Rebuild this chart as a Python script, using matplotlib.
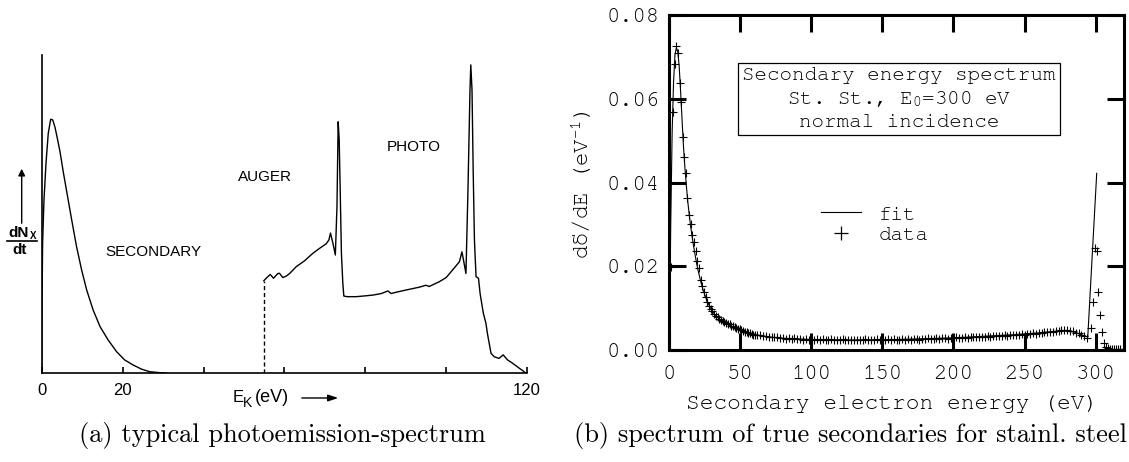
import matplotlib
matplotlib.use("Agg")
import matplotlib.pyplot as plt
from matplotlib.lines import Line2D
from matplotlib.patches import FancyArrowPatch
from matplotlib import font_manager

# ---------------- data: panel (a) ----------------
E_sec = [0, 0.05, 0.2, 0.54, 1.04, 1.6, 2.2, 2.7, 3.26, 3.84, 4.5, 5.3, 6.1, 7.4, 8.6, 9.85, 11.1, 12.7,
         14.4, 16.4, 18.5, 20.5, 22.6, 24.7, 26.7, 29.2, 30.8]
N_sec = [0, 0.21, 0.41, 0.544, 0.66, 0.754, 0.798, 0.796, 0.773, 0.738, 0.696, 0.633, 0.575, 0.481, 0.397,
         0.324, 0.261, 0.198, 0.146, 0.104, 0.067, 0.041, 0.025, 0.012, 0.004, 0.001, 0.0]

E_edge = 54.9
N_edge = 0.29

E_photo = [54.9, 55.5, 56.5, 57.3, 58.4, 58.8, 59.6, 60.5, 61.3, 62.9, 65.0, 67.0, 68.7, 70.3, 71.0, 71.4,
           72.0, 72.6, 73.0, 73.3, 73.55, 73.8, 74.1, 74.45, 74.7, 75.5, 77.7, 79.5, 81.9, 84.0, 85.6,
           86.4, 88.0, 90.1, 93.4, 95.0, 95.8, 98.3, 100.0, 101.6, 103.3, 103.9, 104.3, 104.9, 105.4,
           105.9, 106.1, 106.4, 106.7, 107.0, 107.4, 108.0, 108.4, 109.2, 109.85, 110.2, 111.1, 111.9,
           113.1, 114.1, 115.2, 116.4, 118.1, 119.3, 119.6]
N_photo = [0.29, 0.298, 0.31, 0.298, 0.313, 0.3135, 0.30, 0.305, 0.313, 0.334, 0.353, 0.376, 0.392, 0.406,
           0.418, 0.44, 0.408, 0.371, 0.523, 0.79, 0.733, 0.575, 0.377, 0.282, 0.242, 0.24, 0.24, 0.242,
           0.245, 0.25, 0.258, 0.25, 0.255, 0.261, 0.27, 0.276, 0.272, 0.287, 0.30, 0.324, 0.35, 0.381,
           0.355, 0.313, 0.575, 0.89, 0.969, 0.89, 0.628, 0.418, 0.303, 0.298, 0.25, 0.188, 0.156,
           0.125, 0.062, 0.051, 0.046, 0.057, 0.041, 0.031, 0.015, 0.004, 0.0]

ticks_a = [0, 20, 40, 60, 80, 100, 120]
ticklabels_a = ["0", "20", "", "", "", "", "120"]

# ---------------- data: panel (b) ----------------
E_data = [1.2, 2.4, 3.7, 5.0, 6.3, 7.5, 8.4, 9.5, 10.5, 11.5, 12.7, 14.0, 15.1, 16.2, 17.3, 18.5, 19.6,
          20.8, 22.0, 23.2, 24.4, 25.6, 26.8, 28.0, 29.2, 30.4, 31.6, 32.8, 34.0, 35.2, 36.4, 37.6, 38.8,
          40.0, 41.2, 42.4, 43.6, 44.8, 46.0, 47.2, 48.4, 49.6, 50.8, 52.0, 53.2, 54.4, 55.6, 56.8, 58.0,
          59.2, 60.4,
          62, 64, 66, 68, 70, 72, 74, 76, 78, 80, 82, 84, 86, 88, 90, 92, 94, 96, 98, 100,
          102, 104, 106, 108, 110, 112, 114, 116, 118, 120, 122, 124, 126, 128, 130, 132, 134, 136, 138, 140,
          142, 144, 146, 148, 150, 152, 154, 156, 158, 160, 162, 164, 166, 168, 170, 172, 174, 176, 178, 180,
          182, 184, 186, 188, 190, 192, 194, 196, 198, 200, 202, 204, 206, 208, 210, 212, 214, 216, 218, 220,
          222, 224, 226, 228, 230, 232, 234, 236, 238, 240, 242, 244, 246, 248, 250, 252, 254, 256, 258, 260,
          262, 264, 266, 268, 270, 272, 274, 276, 278, 280, 282, 284, 286, 288, 290, 292, 294,
          296.5, 298.1, 299.5, 300.7, 301.6, 303.0, 304.2, 305.8, 307.2, 308.6, 310.0, 311.5, 313.0,
          314.5, 316.0, 317.5, 319.0]
D_data = [0.0199, 0.0569, 0.0683, 0.0726, 0.0710, 0.0638, 0.0593, 0.0509, 0.0462, 0.0423, 0.0362, 0.0322,
          0.0301, 0.0275, 0.0257, 0.0236, 0.0212, 0.0195, 0.0168, 0.0153, 0.0138, 0.0126, 0.0115, 0.0106,
          0.0099, 0.0092, 0.0086, 0.0081, 0.0078, 0.0073, 0.0071, 0.0070, 0.0066, 0.0065, 0.0062, 0.0062,
          0.0058, 0.0057, 0.0054, 0.0053, 0.0050, 0.0050, 0.0047, 0.0046, 0.0044, 0.0043, 0.0041, 0.0040,
          0.0039, 0.0037, 0.0037,
          0.0035, 0.0035, 0.0033, 0.0033, 0.0031, 0.0032, 0.0030, 0.0030, 0.0028, 0.0029,
          0.0027, 0.0028, 0.0027, 0.0028, 0.0026, 0.0027, 0.0025, 0.0027, 0.0025, 0.0026,
          0.0024, 0.0026, 0.0025, 0.0026, 0.0024, 0.0025, 0.0026, 0.0024, 0.0025, 0.0024,
          0.0026, 0.0023, 0.0025, 0.0024, 0.0025, 0.0023, 0.0025, 0.0024, 0.0026, 0.0024,
          0.0025, 0.0023, 0.0026, 0.0024, 0.0025, 0.0024, 0.0026, 0.0024, 0.0026, 0.0025,
          0.0024, 0.0026, 0.0025, 0.0027, 0.0025, 0.0026, 0.0027, 0.0025, 0.0027, 0.0026,
          0.0028, 0.0027, 0.0026, 0.0028, 0.0027, 0.0029, 0.0028, 0.0027, 0.0029, 0.0028,
          0.0030, 0.0029, 0.0028, 0.0030, 0.0029, 0.0031, 0.0030, 0.0032, 0.0030, 0.0032,
          0.0031, 0.0033, 0.0032, 0.0034, 0.0033, 0.0034, 0.0033, 0.0035, 0.0034, 0.0036,
          0.0035, 0.0037, 0.0036, 0.0038, 0.0037, 0.0039, 0.0038, 0.0040, 0.0039, 0.0041,
          0.0041, 0.0043, 0.0042, 0.0044, 0.0044, 0.0046, 0.0046, 0.0048, 0.0047, 0.0048,
          0.0045, 0.0045, 0.0041, 0.0040, 0.0036, 0.0034, 0.0029,
          0.0052, 0.0115, 0.0243, 0.0237, 0.0139, 0.0084, 0.0042, 0.0016, 0.0006, 0.0004, 0.0003,
          0.0003, 0.0003, 0.0003, 0.0003, 0.0003, 0.0003]

E_fit = [0, 1.0, 2.0, 3.0, 4.0, 5.0, 6.0, 7.0, 8.0, 9.0, 10.0, 11.0, 12.0, 13.0, 14.0, 15.0, 16.0, 17.0,
         18.0, 19.0, 20.0, 22.0, 24.0, 26.0, 28.0, 30.0, 33.0, 36.0, 40.0, 45.0, 50.0, 55.0, 60.0, 70.0,
         80.0, 100.0, 130.0, 160.0, 200.0, 240.0, 260.0, 275.0, 285.0, 292.0, 294.5, 300.8]
D_fit = [0.0, 0.030, 0.052, 0.064, 0.0705, 0.0722, 0.0712, 0.0675, 0.0615, 0.0548, 0.0485, 0.0435, 0.0392,
         0.0355, 0.0324, 0.0296, 0.0272, 0.0250, 0.0230, 0.0211, 0.0194, 0.0165, 0.0141, 0.0122, 0.0107,
         0.0094, 0.0081, 0.0072, 0.0063, 0.0055, 0.0048, 0.0042, 0.0037, 0.0031, 0.0028, 0.0025, 0.0024,
         0.0025, 0.0029, 0.0036, 0.0041, 0.0046, 0.0043, 0.0034, 0.0031, 0.0422]

xticks_b = [0, 50, 100, 150, 200, 250, 300]
yticks_b = [0.00, 0.02, 0.04, 0.06, 0.08]
legend_labels = ["fit", "data"]
box_lines = ["Secondary energy spectrum", "St. St., E$_{0}$=300 eV", "normal incidence"]
ylabel_b = "d\u03b4/dE (eV$^{-1}$)"
xlabel_b = "Secondary electron energy (eV)"
caption_a = "(a) typical photoemission-spectrum"
caption_b = "(b) spectrum of true secondaries for stainl. steel"

# ---------------- fonts ----------------
installed = {f.name for f in font_manager.fontManager.ttflist}
MONO = [f for f in ["Nimbus Mono PS", "Nimbus Mono L", "FreeMono", "Courier New", "Courier"]
        if f in installed] + ["Liberation Mono", "DejaVu Sans Mono"]
SANS = "Liberation Sans"
plt.rcParams["mathtext.fontset"] = "custom"
plt.rcParams["mathtext.rm"] = MONO[0]
plt.rcParams["mathtext.it"] = MONO[0]
plt.rcParams["mathtext.bf"] = MONO[0]
plt.rcParams["mathtext.sf"] = MONO[0]

# ---------------- figure ----------------
W, H, DPI = 1129, 462, 100
fig = plt.figure(figsize=(W / DPI, H / DPI), dpi=DPI)


def fx(px):
    return px / W


def fy(py):
    return 1 - py / H


# ---- panel (a) ----
axL = fig.add_axes([fx(41.8), fy(373), (527 - 41.8) / W, (373 - 55) / H])
axL.plot(E_sec, N_sec, color="k", lw=1.0)
axL.plot([E_edge, E_edge], [0, N_edge], color="k", lw=1.0, ls=(0, (3, 2)))
axL.plot(E_photo, N_photo, color="k", lw=1.0)
axL.set_xlim(0, 120)
axL.set_ylim(0, 1)
for s in ["top", "right"]:
    axL.spines[s].set_visible(False)
for s in ["left", "bottom"]:
    axL.spines[s].set_linewidth(1.2)
axL.set_xticks(ticks_a)
axL.set_xticklabels(ticklabels_a, family=SANS, fontsize=12)
axL.set_yticks([])
axL.tick_params(axis="x", direction="in", length=4, width=1.2, pad=7)

kw = dict(family=SANS, fontsize=11, ha="center", va="center")
fig.text(fx(153), fy(252), "SECONDARY", **kw)
fig.text(fx(265), fy(177), "AUGER", **kw)
fig.text(fx(414), fy(147), "PHOTO", **kw)

# dN_x/dt label
fig.text(fx(19), fy(233), "dN", family=SANS, fontsize=11, fontweight="bold", ha="center", va="center")
fig.text(fx(33), fy(236), "X", family=SANS, fontsize=7, fontweight="bold", ha="center", va="center")
fig.add_artist(Line2D([fx(7), fx(37)], [fy(241), fy(241)], color="k", lw=1.2, transform=fig.transFigure))
fig.text(fx(20), fy(250), "dt", family=SANS, fontsize=11, fontweight="bold", ha="center", va="center")
fig.add_artist(FancyArrowPatch((fx(21.7), fy(226)), (fx(21.7), fy(166)),
               transform=fig.transFigure, arrowstyle="-|>,head_length=4,head_width=2",
               color="k", lw=1.0, mutation_scale=1))

# E_K (eV) --->
fig.text(fx(233), fy(398), "E", family=SANS, fontsize=12, ha="left", va="center")
fig.text(fx(243), fy(403), "K", family=SANS, fontsize=10, ha="left", va="center")
fig.text(fx(255), fy(398), "(eV)", family=SANS, fontsize=13, ha="left", va="center")
fig.add_artist(FancyArrowPatch((fx(299), fy(398)), (fx(341), fy(398)),
               transform=fig.transFigure, arrowstyle="-|>,head_length=6,head_width=2",
               color="k", lw=1.0, mutation_scale=1))

# ---- panel (b) ----
axR = fig.add_axes([fx(669.3), fy(350), (1124 - 669.3) / W, (350 - 15) / H])
axR.plot(E_fit, D_fit, color="k", lw=0.8)
axR.plot(E_data, D_data, ls="none", marker="+", ms=6, mew=0.8, color="k")
axR.set_xlim(0, 320)
axR.set_ylim(0, 0.08)
axR.set_xticks(xticks_b)
axR.set_xticklabels([str(t) for t in xticks_b], family=MONO, fontsize=16)
axR.set_yticks(yticks_b)
axR.set_yticklabels(["%.2f" % t for t in yticks_b], family=MONO, fontsize=16)
axR.tick_params(direction="in", length=12, width=2.2, top=True, right=True)
axR.tick_params(axis="x", pad=11)
axR.tick_params(axis="y", pad=7)
for s in axR.spines.values():
    s.set_linewidth(2.2)

axR.set_xlabel(xlabel_b, family=MONO, fontsize=16.5)
axR.xaxis.set_label_coords(0.49, -0.135)
axR.set_ylabel(ylabel_b, family=MONO, fontsize=16)
axR.yaxis.set_label_coords(-0.165, 0.493)

axR.text(0.505, 0.749, "\n".join(box_lines), transform=axR.transAxes, ha="center", va="center",
         multialignment="center", family=MONO, fontsize=15, linespacing=1.33,
         bbox=dict(boxstyle="square,pad=0.22", fc="white", ec="k", lw=0.9))

handles = [Line2D([], [], color="k", lw=0.8),
           Line2D([], [], ls="none", marker="+", ms=10, mew=0.9, color="k")]
axR.legend(handles, legend_labels, loc="center", bbox_to_anchor=(0.452, 0.374), frameon=False,
           prop=dict(family=MONO, size=15), handlelength=1.9, handletextpad=0.85,
           labelspacing=0.1, borderpad=0)

# captions
fig.text(fx(282), fy(442), caption_a, family="cmr10", fontsize=19, ha="center", va="baseline")
fig.text(fx(850), fy(442), caption_b, family="cmr10", fontsize=19, ha="center", va="baseline")

fig.savefig("out.png", dpi=DPI)
